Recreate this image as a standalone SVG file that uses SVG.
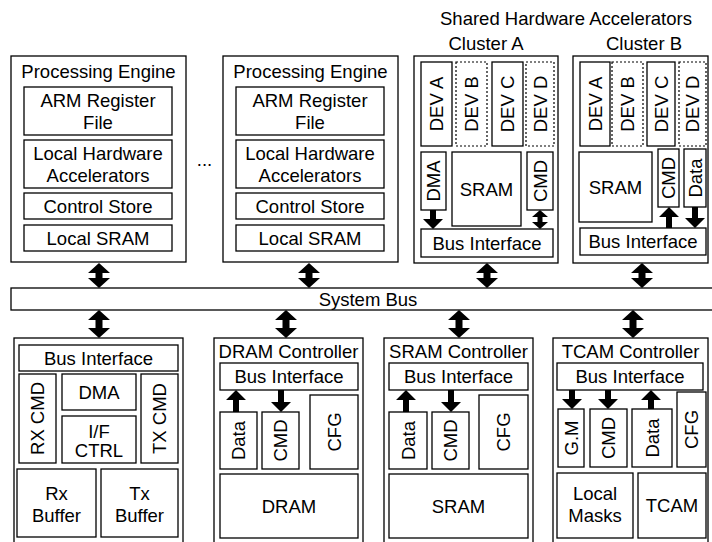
<svg xmlns="http://www.w3.org/2000/svg" width="712" height="542" viewBox="0 0 712 542">
<style>
.b{fill:#fff;stroke:#000;stroke-width:1.3}
.d{fill:#fff;stroke:#000;stroke-width:1.2;stroke-dasharray:2 2}
text{font-family:"Liberation Sans",Arial,Helvetica,sans-serif;font-size:18.5px;fill:#000;text-anchor:middle}
.arr{fill:#000;stroke:none}
</style>
<defs>
<path id="dbl25" d="M0,0 L11,10 L3.5,10 L3.5,15 L11,15 L0,25 L-11,15 L-3.5,15 L-3.5,10 L-11,10 Z"/>
<path id="dbl28" d="M0,0 L11,10 L3.5,10 L3.5,18 L11,18 L0,28 L-11,18 L-3.5,18 L-3.5,10 L-11,10 Z"/>
</defs>
<rect width="712" height="542" fill="#fff"/>

<g id="titles">
<text x="566" y="25">Shared Hardware Accelerators</text>
<text x="486" y="50">Cluster A</text>
<text x="644" y="50">Cluster B</text>
<text x="204.5" y="166">...</text>
</g>

<g id="pe1">
<rect class="b" x="11" y="56" width="175" height="206"/>
<text x="98.5" y="78">Processing Engine</text>
<g id="pe1-arm"><rect class="b" x="24" y="87" width="148" height="48"/>
<text x="98" y="106.5">ARM Register</text><text x="98" y="129">File</text></g>
<g id="pe1-lha"><rect class="b" x="24" y="140" width="148" height="48"/>
<text x="98" y="160">Local Hardware</text><text x="98" y="182">Accelerators</text></g>
<g id="pe1-cs"><rect class="b" x="24" y="193" width="148" height="26"/>
<text x="98" y="212.5">Control Store</text></g>
<g id="pe1-sram"><rect class="b" x="24" y="225" width="148" height="26"/>
<text x="98" y="244.5">Local SRAM</text></g>
</g>

<g id="pe2">
<rect class="b" x="223" y="56" width="175" height="206"/>
<text x="310.5" y="78">Processing Engine</text>
<g id="pe2-arm"><rect class="b" x="236" y="87" width="148" height="48"/>
<text x="310" y="106.5">ARM Register</text><text x="310" y="129">File</text></g>
<g id="pe2-lha"><rect class="b" x="236" y="140" width="148" height="48"/>
<text x="310" y="160">Local Hardware</text><text x="310" y="182">Accelerators</text></g>
<g id="pe2-cs"><rect class="b" x="236" y="193" width="148" height="26"/>
<text x="310" y="212.5">Control Store</text></g>
<g id="pe2-sram"><rect class="b" x="236" y="225" width="148" height="26"/>
<text x="310" y="244.5">Local SRAM</text></g>
</g>

<g id="clusterA">
<rect class="b" x="414" y="56" width="144" height="207"/>
<g id="ca-deva"><rect class="b" x="421" y="62" width="31" height="84"/><text transform="translate(436.5,104) rotate(-90)" y="6.5">DEV A</text></g>
<g id="ca-devb"><rect class="d" x="456" y="62" width="31" height="84"/><text transform="translate(471.5,104) rotate(-90)" y="6.5">DEV B</text></g>
<g id="ca-devc"><rect class="b" x="492" y="62" width="31" height="84"/><text transform="translate(507.5,104) rotate(-90)" y="6.5">DEV C</text></g>
<g id="ca-devd"><rect class="d" x="526" y="62" width="28" height="84"/><text transform="translate(540,104) rotate(-90)" y="6.5">DEV D</text></g>
<g id="ca-dma"><rect class="b" x="421" y="152" width="25" height="58"/><text transform="translate(433.5,181) rotate(-90)" y="6.5">DMA</text></g>
<g id="ca-sram"><rect class="b" x="452" y="152" width="69" height="74"/><text x="486.5" y="195.5">SRAM</text></g>
<g id="ca-cmd"><rect class="b" x="527" y="152" width="26" height="58"/><text transform="translate(540,181) rotate(-90)" y="6.5">CMD</text></g>
<g id="ca-bi"><rect class="b" x="421" y="229" width="132" height="28"/><text x="487" y="249.5">Bus Interface</text></g>
</g>

<g id="clusterB">
<rect class="b" x="573" y="56" width="135" height="207"/>
<g id="cb-deva"><rect class="b" x="580" y="62" width="30" height="84"/><text transform="translate(595,104) rotate(-90)" y="6.5">DEV A</text></g>
<g id="cb-devb"><rect class="d" x="612" y="62" width="31" height="84"/><text transform="translate(627.5,104) rotate(-90)" y="6.5">DEV B</text></g>
<g id="cb-devc"><rect class="b" x="647" y="62" width="28" height="84"/><text transform="translate(661,104) rotate(-90)" y="6.5">DEV C</text></g>
<g id="cb-devd"><rect class="d" x="679" y="62" width="27" height="84"/><text transform="translate(692.5,104) rotate(-90)" y="6.5">DEV D</text></g>
<g id="cb-sram"><rect class="b" x="579" y="152" width="73" height="70"/><text x="615.5" y="193.5">SRAM</text></g>
<g id="cb-cmd"><rect class="b" x="658" y="149" width="21" height="58"/><text transform="translate(668.5,178) rotate(-90)" y="6.5">CMD</text></g>
<g id="cb-data"><rect class="b" x="684" y="149" width="22" height="58"/><text transform="translate(695,178) rotate(-90)" y="6.5">Data</text></g>
<g id="cb-bi"><rect class="b" x="580" y="228" width="126" height="27"/><text x="643" y="248">Bus Interface</text></g>
</g>

<g id="sysbus">
<rect class="b" x="11" y="288" width="720" height="22"/>
<text x="368" y="305.5">System Bus</text>
</g>

<g id="io">
<rect class="b" x="14" y="338" width="169" height="215"/>
<g id="io-bi"><rect class="b" x="19" y="345" width="159" height="26"/><text x="98.5" y="364.5">Bus Interface</text></g>
<g id="io-rxcmd"><rect class="b" x="19" y="374" width="37" height="89"/><text transform="translate(37.5,418.5) rotate(-90)" y="6.5">RX CMD</text></g>
<g id="io-dma"><rect class="b" x="62" y="374" width="74" height="36"/><text x="99" y="398.5">DMA</text></g>
<g id="io-ifctrl"><rect class="b" x="62" y="416" width="74" height="47"/><text x="99" y="437.5">I/F</text><text x="99" y="456.5">CTRL</text></g>
<g id="io-txcmd"><rect class="b" x="141" y="374" width="37" height="89"/><text transform="translate(159.5,418.5) rotate(-90)" y="6.5">TX CMD</text></g>
<g id="io-rxbuf"><rect class="b" x="17" y="469" width="79" height="68"/><text x="56.5" y="500">Rx</text><text x="56.5" y="522">Buffer</text></g>
<g id="io-txbuf"><rect class="b" x="101" y="469" width="77" height="68"/><text x="139.5" y="500">Tx</text><text x="139.5" y="522">Buffer</text></g>
</g>

<g id="dramctl">
<rect class="b" x="214" y="338" width="149" height="215"/>
<text x="288.5" y="358">DRAM Controller</text>
<g id="dr-bi"><rect class="b" x="220" y="363" width="138" height="27"/><text x="289" y="383">Bus Interface</text></g>
<g id="dr-data"><rect class="b" x="220" y="412" width="37" height="57"/><text transform="translate(238.5,440.5) rotate(-90)" y="6.5">Data</text></g>
<g id="dr-cmd"><rect class="b" x="262" y="412" width="37" height="57"/><text transform="translate(280.5,440.5) rotate(-90)" y="6.5">CMD</text></g>
<g id="dr-cfg"><rect class="b" x="310" y="395" width="48" height="74"/><text transform="translate(334,432) rotate(-90)" y="6.5">CFG</text></g>
<g id="dr-dram"><rect class="b" x="220" y="474" width="138" height="64"/><text x="289" y="512.5">DRAM</text></g>
</g>

<g id="sramctl">
<rect class="b" x="384" y="338" width="149" height="215"/>
<text x="458.5" y="358">SRAM Controller</text>
<g id="sr-bi"><rect class="b" x="389" y="363" width="139" height="27"/><text x="458.5" y="383">Bus Interface</text></g>
<g id="sr-data"><rect class="b" x="389" y="412" width="38" height="57"/><text transform="translate(408,440.5) rotate(-90)" y="6.5">Data</text></g>
<g id="sr-cmd"><rect class="b" x="432" y="412" width="37" height="57"/><text transform="translate(450.5,440.5) rotate(-90)" y="6.5">CMD</text></g>
<g id="sr-cfg"><rect class="b" x="479" y="395" width="49" height="74"/><text transform="translate(503.5,432) rotate(-90)" y="6.5">CFG</text></g>
<g id="sr-sram"><rect class="b" x="389" y="474" width="139" height="64"/><text x="458.5" y="512.5">SRAM</text></g>
</g>

<g id="tcamctl">
<rect class="b" x="553" y="338" width="155" height="215"/>
<text x="630.5" y="358">TCAM Controller</text>
<g id="tc-bi"><rect class="b" x="557" y="363" width="146" height="27"/><text x="630" y="383">Bus Interface</text></g>
<g id="tc-gm"><rect class="b" x="558" y="409" width="26" height="58"/><text transform="translate(571,438) rotate(-90)" y="6.5">G.M</text></g>
<g id="tc-cmd"><rect class="b" x="590" y="409" width="37" height="58"/><text transform="translate(608.5,438) rotate(-90)" y="6.5">CMD</text></g>
<g id="tc-data"><rect class="b" x="632" y="409" width="40" height="58"/><text transform="translate(652,438) rotate(-90)" y="6.5">Data</text></g>
<g id="tc-cfg"><rect class="b" x="677" y="392" width="29" height="75"/><text transform="translate(691.5,429.5) rotate(-90)" y="6.5">CFG</text></g>
<g id="tc-masks"><rect class="b" x="557" y="473" width="76" height="65"/><text x="595" y="500">Local</text><text x="595" y="522">Masks</text></g>
<g id="tc-tcam"><rect class="b" x="638" y="473" width="68" height="65"/><text x="672" y="512">TCAM</text></g>
</g>

<g id="connectors" class="arr">
<use href="#dbl25" x="99" y="263"/>
<use href="#dbl25" x="309" y="263"/>
<use href="#dbl25" x="487" y="263"/>
<use href="#dbl25" x="642" y="263"/>
<use href="#dbl28" x="99" y="310"/>
<use href="#dbl28" x="286" y="310"/>
<use href="#dbl28" x="459" y="310"/>
<use href="#dbl28" x="633" y="310"/>
<path d="M430,210 L436,210 L436,219 L443,219 L433,229 L423,219 L430,219 Z"/>
<path d="M540,210 L548,217 L542.5,217 L542.5,222 L548,222 L540,229 L532,222 L537.5,222 L537.5,217 L532,217 Z"/>
<path d="M669,207 L679,217 L672,217 L672,228 L666,228 L666,217 L659,217 Z"/>
<path d="M692,207 L698,207 L698,218 L705,218 L695,228 L685,218 L692,218 Z"/>
<path d="M236,390 L246,400 L239,400 L239,412 L233,412 L233,400 L226,400 Z"/>
<path d="M278,390 L284,390 L284,402 L291,402 L281,412 L271,402 L278,402 Z"/>
<path d="M406,390 L416,400 L409,400 L409,412 L403,412 L403,400 L396,400 Z"/>
<path d="M448,390 L454,390 L454,402 L461,402 L451,412 L441,402 L448,402 Z"/>
<path d="M569,390 L575,390 L575,399 L582,399 L572,409 L562,399 L569,399 Z"/>
<path d="M605,390 L611,390 L611,399 L618,399 L608,409 L598,399 L605,399 Z"/>
<path d="M651,390 L661,400 L654,400 L654,409 L648,409 L648,400 L641,400 Z"/>
</g>
</svg>
